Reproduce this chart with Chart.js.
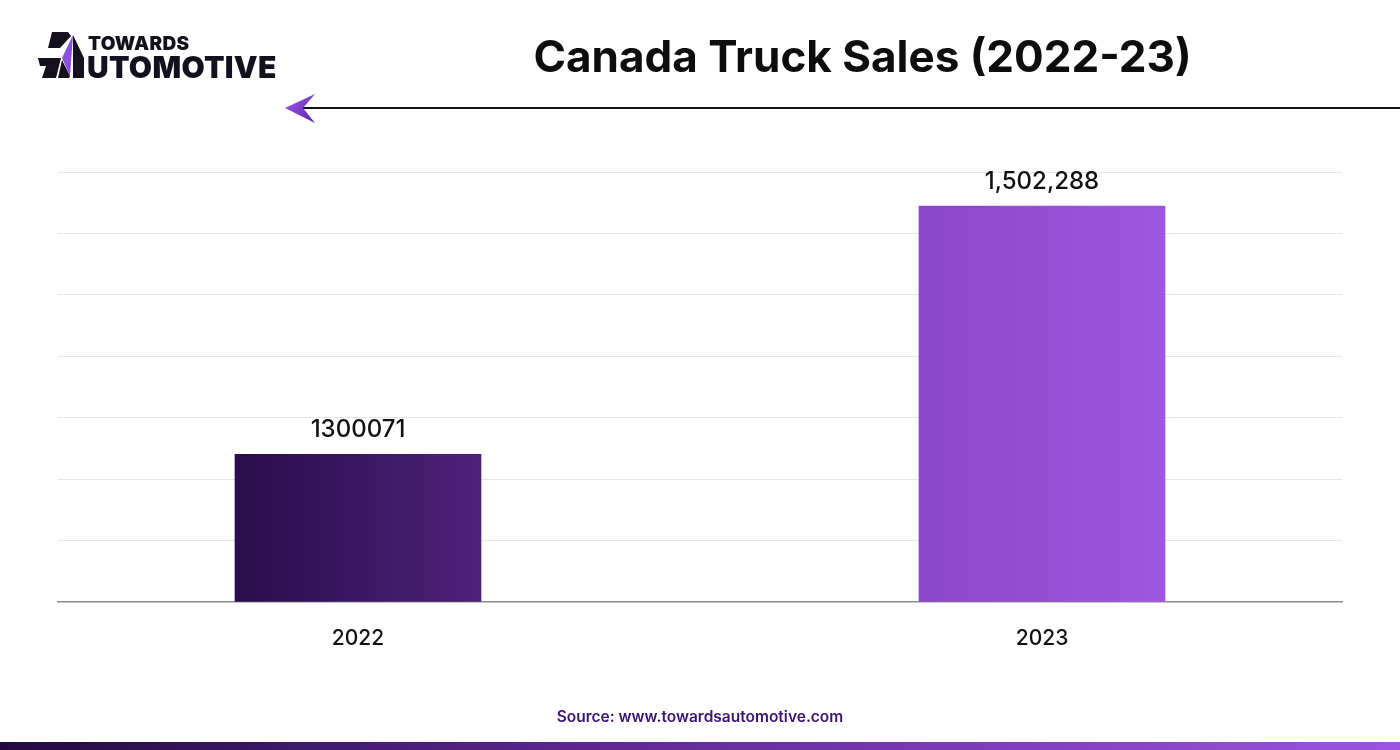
<!DOCTYPE html>
<html>
<head>
<meta charset="utf-8">
<script src="https://cdn.jsdelivr.net/npm/chart.js@4.4.0/dist/chart.umd.min.js"></script>
<style>
  html, body { margin:0; padding:0; background:#fff; }
  body { width:1400px; height:750px; position:relative; overflow:hidden; font-family: Inter, "Noto Sans", sans-serif; }
  #wrap { position:absolute; left:0; top:0; width:1400px; height:750px; }
  #title { position:absolute; left:500px; top:29px; width:725px; text-align:center; font-size:44px; font-weight:700; color:#0d0d0d; white-space:nowrap; }
  #line { position:absolute; left:300px; top:107px; width:1100px; height:2px; background:#111; }
  #arrow { position:absolute; left:285px; top:94px; }
  #logo { position:absolute; left:36px; top:30px; }
  #logoT1 { position:absolute; left:88px; top:32px; font-size:19px; font-weight:900; color:#15101e; letter-spacing:0.3px; }
  #logoT2 { position:absolute; left:87px; top:49px; font-size:30px; font-weight:900; color:#15101e; letter-spacing:0.3px; }
  #source { position:absolute; left:0; width:1400px; top:707px; text-align:center; font-size:15.5px; font-weight:600; color:#3b1470; }
  #strip { position:absolute; left:0; top:742px; width:1400px; height:8px; background:linear-gradient(90deg,#220a3e,#5a2590 40%,#9b55e0); }
</style>
</head>
<body>
<div id="wrap"><canvas id="c" width="1400" height="750"></canvas></div>
<svg id="logo" width="52" height="52" viewBox="0 0 52 52">
  <polygon points="16,2 32,2 35,6 24,18 12,18" fill="#15101e"/>
  <polygon points="37,5 37,48 48,48 48,28" fill="#15101e"/>
  <polygon points="37,5 26,28 34,46" fill="#8b4fe0"/>
  <polygon points="2,28 25,28 20,48 6,48 10,36 4,36" fill="#15101e"/>
  <polygon points="26,30 34,46 33,48 22,48" fill="#15101e"/>
</svg>
<div id="logoT1">TOWARDS</div>
<div id="logoT2">UTOMOTIVE</div>
<div id="title">Canada Truck Sales (2022-23)</div>
<div id="line"></div>
<svg id="arrow" width="32" height="30" viewBox="0 0 32 30">
  <defs><linearGradient id="ag" x1="0" y1="0" x2="1" y2="1"><stop offset="0" stop-color="#a25cf0"/><stop offset="1" stop-color="#5a22a8"/></linearGradient></defs>
  <polygon points="0,14 30,0 18,14 30,29" fill="url(#ag)"/>
</svg>
<div id="source">Source: www.towardsautomotive.com</div>
<div id="strip"></div>
<script>
const categories = ['2022', '2023'];
const salesValues = [1300071, 1502288];
const valueLabels = ['1300071', '1,502,288'];
const yTicks = { min: 1180000, max: 1530000, step: 50000 };
const barColors = [['#2a0c4c', '#4f2179'], ['#8b47ca', '#9e56df']];

const points = salesValues.map((v, i) => ({ x: i, y: v }));

const labelPlugin = {
  id: 'valueLabels',
  afterDatasetsDraw(chart) {
    const ctx = chart.ctx;
    const meta = chart.getDatasetMeta(0);
    ctx.save();
    ctx.font = '500 24px Inter, "Noto Sans", sans-serif';
    ctx.fillStyle = '#111';
    ctx.textAlign = 'center';
    ctx.textBaseline = 'alphabetic';
    meta.data.forEach((bar, i) => {
      ctx.fillText(valueLabels[i], bar.x, bar.y - 17);
    });
    ctx.restore();
  }
};

new Chart(document.getElementById('c'), {
  type: 'bar',
  data: {
    datasets: [{
      data: points,
      barThickness: 246,
      borderWidth: 0,
      backgroundColor(context) {
        const chart = context.chart;
        const i = context.dataIndex;
        if (!chart.chartArea || i === undefined || !chart.scales.x) return barColors[0][0];
        const cx = chart.scales.x.getPixelForValue(i);
        const g = chart.ctx.createLinearGradient(cx - 123, 0, cx + 123, 0);
        g.addColorStop(0, barColors[i][0]);
        g.addColorStop(1, barColors[i][1]);
        return g;
      }
    }]
  },
  options: {
    responsive: false,
    animation: false,
    devicePixelRatio: 1,
    layout: { padding: { left: 58, right: 58, top: 172, bottom: 83 } },
    plugins: { legend: { display: false }, tooltip: { enabled: false } },
    scales: {
      x: {
        type: 'linear',
        offset: false,
        min: -0.4386,
        max: 1.4386,
        grid: { display: false },
        border: { display: true, color: '#8c8c8c', width: 1.5 },
        afterBuildTicks(scale) {
          scale.ticks = categories.map((c, i) => ({ value: i }));
        },
        ticks: {
          padding: 16,
          color: '#111',
          font: { family: 'Inter, "Noto Sans", sans-serif', size: 21, weight: 500 },
          callback(v) { return categories[v] ?? ''; },
          maxRotation: 0,
          autoSkip: false
        }
      },
      y: {
        min: yTicks.min,
        max: yTicks.max,
        ticks: { display: false, stepSize: yTicks.step },
        grid: { color: '#e6e6e6', lineWidth: 1, drawTicks: false },
        border: { display: false }
      }
    }
  },
  plugins: [labelPlugin]
});
</script>
</body>
</html>
